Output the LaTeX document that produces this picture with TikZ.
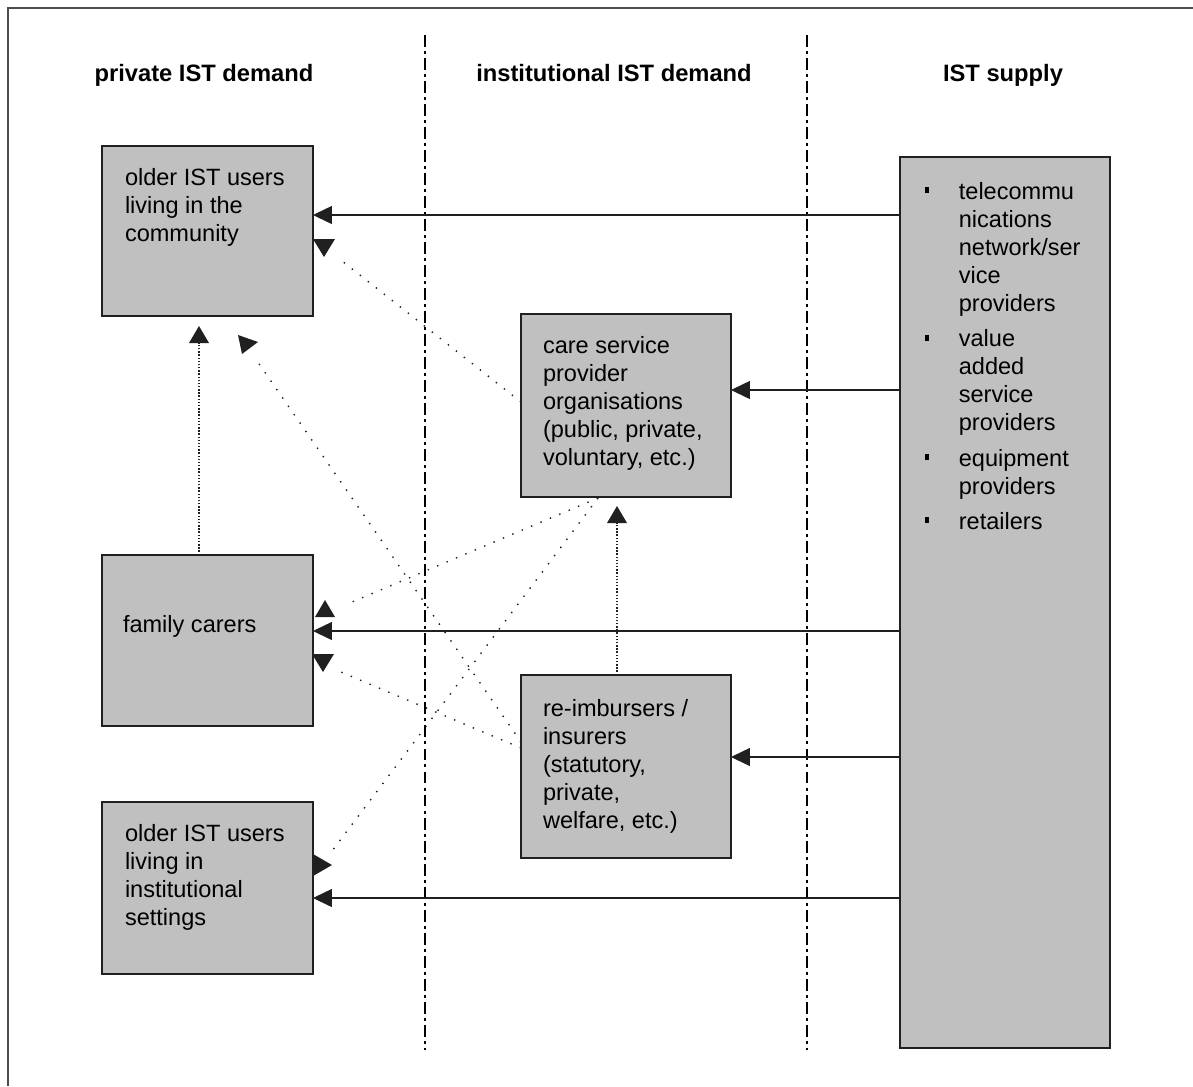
\documentclass[tikz,border=0pt]{standalone}
\usepackage{fontspec}
\setmainfont{Liberation Sans}
\usetikzlibrary{arrows.meta}
\newdimen\upx \upx=0.5669pt
\definecolor{boxgray}{HTML}{C0C0C0}
\definecolor{linegray}{HTML}{202020}
\newcommand\blk[1]{\begin{tabular}[t]{@{}l@{}}#1\end{tabular}}
\newcommand\bul{\makebox[34\upx][l]{\rule[6\upx]{4\upx}{6\upx}}}
\begin{document}
\begin{tikzpicture}[x=0.02cm,y=-0.02cm,
  box/.style={draw=linegray, line width=1.1pt, fill=boxgray, inner sep=0pt, outer sep=0pt, anchor=north west},
  txt/.style={inner sep=0pt, outer sep=0pt, anchor=base west, font=\fontsize{13.4pt}{16pt}\selectfont},
  hdr/.style={inner sep=0pt, anchor=base, font=\fontsize{13.5pt}{16pt}\selectfont\bfseries},
  sarrow/.style={draw=linegray, line width=0.85pt, -{Triangle[length=10.8pt,width=10.2pt]}},
  dotl/.style={draw=linegray, line width=0.8pt, dash pattern=on 0.8pt off 5pt},
  vdot/.style={draw=linegray, line width=0.8pt, dash pattern=on 0.8pt off 1pt},
  sep/.style={draw=black, line width=0.7pt, dash pattern=on 6.8pt off 2.3pt on 1.7pt off 2.3pt},
  tridn/.pic={\fill[linegray] (0,0) -- (-11,-18) -- (11,-18) -- cycle;},
  triup/.pic={\fill[linegray] (0,0) -- (-10,17) -- (10,17) -- cycle;},
  trirt/.pic={\fill[linegray] (0,0) -- (-19,-11) -- (-19,11) -- cycle;}
]
\useasboundingbox (0,0) rectangle (1193,1086);
\fill[white] (0,0) rectangle (1193,1086);
% outer frame
\draw[black!70, line width=0.9pt] (8,1086) -- (8,8) -- (1193,8);
% column separators
\draw[sep] (425,35) -- (425,1050);
\draw[sep] (807,35) -- (807,1050);
% headers
\node[hdr] (h1) at (204,81) {private IST demand};
\node[hdr] (h2) at (614,81) {institutional IST demand};
\node[hdr] (h3) at (1003,81) {IST supply};
% boxes
\node[box, minimum width=4.22cm, minimum height=3.40cm] (A) at (102,146) {};
\node[box, minimum width=4.22cm, minimum height=3.42cm] (fam) at (102,555) {};
\node[box, minimum width=4.22cm, minimum height=3.44cm] (inst) at (102,802) {};
\node[box, minimum width=4.20cm, minimum height=3.66cm] (care) at (521,314) {};
\node[box, minimum width=4.20cm, minimum height=3.66cm] (reimb) at (521,675) {};
\node[box, minimum width=4.20cm, minimum height=17.82cm] (sup) at (900,157) {};
% texts
\node[txt] (tA) at (125,185) {\blk{older IST users\\living in the\\community}};
\node[txt] (tfam) at (123,632) {family carers};
\node[txt] (tinst) at (125,841) {\blk{older IST users\\living in\\institutional\\settings}};
\node[txt] (tcare) at (543,353) {\blk{care service\\provider\\organisations\\(public, private,\\voluntary, etc.)}};
\node[txt] (treimb) at (543,716) {\blk{re-imbursers /\\insurers\\(statutory,\\private,\\welfare, etc.)}};
\node[txt] (tsup) at (925,199) {\begin{tabular}[t]{@{}l@{}l@{}}
\bul & telecommu\\ & nications\\ & network/ser\\ & vice\\ & providers\\[4pt]
\bul & value\\ & added\\ & service\\ & providers\\[4pt]
\bul & equipment\\ & providers\\[4pt]
\bul & retailers
\end{tabular}};
% solid supply arrows
\draw[sarrow] (sup.west |- 0,215) -- (A.east |- 0,215);
\draw[sarrow] (sup.west |- 0,390) -- (care.east |- 0,390);
\draw[sarrow] (sup.west |- 0,631) -- (fam.east |- 0,631);
\draw[sarrow] (sup.west |- 0,757) -- (reimb.east |- 0,757);
\draw[sarrow] (sup.west |- 0,898) -- (inst.east |- 0,898);
% dotted arrows
\coordinate (ea) at (337,257);
\draw[dotl] (care.west |- 0,402) -- (ea);
\pic at (324,257) {tridn};
\coordinate (eg) at (255,358);
\draw[dotl] (reimb.west |- 0,742) -- (eg);
\fill[linegray] (238,335) -- (258,342) -- (242,354) -- cycle;
\coordinate (ec) at (199,343);
\draw[vdot] (fam.north -| 199,0) -- (ec);
\pic at (199,326) {triup};
\coordinate (cb) at (598,498);
\coordinate (ed) at (345,605);
\draw[dotl] (cb) -- (ed);
\pic at (325,600) {triup};
\coordinate (ee) at (329,855);
\draw[dotl] (cb) -- (ee);
\pic at (332,865) {trirt};
\coordinate (ef) at (341,672);
\draw[dotl] (reimb.west |- 0,748) -- (ef);
\pic at (323,672) {tridn};
\coordinate (eh) at (617,523);
\draw[vdot] (reimb.north -| 617,0) -- (eh);
\pic at (617,506) {triup};
\end{tikzpicture}
\end{document}
